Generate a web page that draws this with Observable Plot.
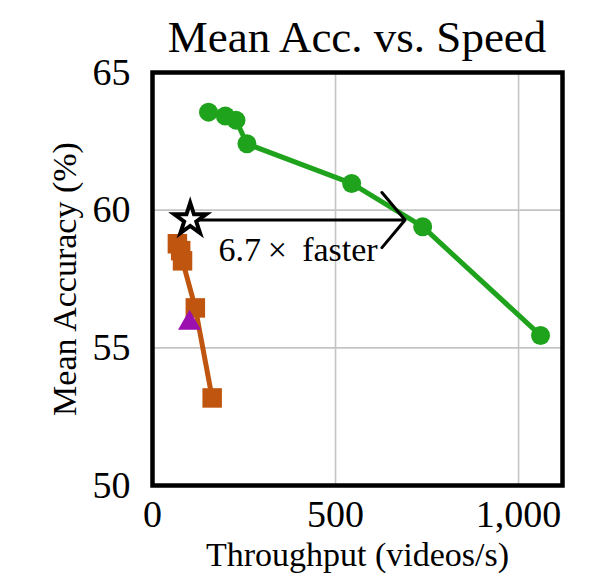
<!DOCTYPE html>
<html>
<head>
<meta charset="utf-8">
<script src="https://cdn.jsdelivr.net/npm/d3@7"></script>
<script src="https://cdn.jsdelivr.net/npm/@observablehq/plot@0.6"></script>
<style>
  body { margin: 0; background: white; }
  #wrap { width: 592px; }
  #titlebox { position: relative; height: 38px; overflow: visible; z-index: 1; }
  #title { position: absolute; left: 152px; width: 410px; top: 15px; text-align: center;
           font-family: "Liberation Serif", serif; font-size: 45px; line-height: 45px; white-space: nowrap; color: #000; }
  #chart svg { display: block; }
</style>
</head>
<body>
<div id="wrap">
  <div id="titlebox"><div id="title">Mean Acc. vs. Speed</div></div>
  <div id="chart"></div>
</div>
<script>
// ---- data ----
const greenX = [153, 199, 228, 258, 544, 738, 1060];
const greenY = [63.56, 63.42, 63.27, 62.41, 60.97, 59.40, 55.45];

const orangeX = [68, 77, 82, 117, 163];
const orangeY = [58.78, 58.53, 58.16, 56.45, 53.18];

const purpleX = [101];
const purpleY = [55.9];

const starX = [103];
const starY = [59.66];

const arrowX1 = [103];
const arrowX2 = [690];
const arrowY = [59.64];

const noteText = ["6.7\u2009\u00d7\u2009 faster"];
const noteX = [180];
const noteY = [58.56];

const xTicks = [0, 500, 1000];
const yTicks = [50, 55, 60, 65];
const xLabel = "Throughput (videos/s)";
const yLabel = "Mean Accuracy (%)";

// ---- tables ----
const green = greenX.map((x, i) => ({x, y: greenY[i]}));
const orange = orangeX.map((x, i) => ({x, y: orangeY[i]}));
const purple = purpleX.map((x, i) => ({x, y: purpleY[i]}));
const star = starX.map((x, i) => ({x, y: starY[i]}));
const arrows = arrowX1.map((x1, i) => ({x1, x2: arrowX2[i], y: arrowY[i]}));
const notes = noteText.map((t, i) => ({t, x: noteX[i], y: noteY[i]}));

const GREEN = "#1fa31d";
const ORANGE = "#c0550f";
const PURPLE = "#9c10b0";

const chart = Plot.plot({
  width: 592,
  height: 542,
  marginTop: 34,
  marginBottom: 95,
  marginLeft: 152,
  marginRight: 30,
  style: { fontFamily: "Liberation Serif, serif", color: "#000", background: "transparent" },
  x: { domain: [0, 1120] },
  y: { domain: [50, 65] },
  marks: [
    Plot.gridX({ ticks: [500, 1000], stroke: "#c4c4c4", strokeOpacity: 1, strokeWidth: 1.6 }),
    Plot.gridY({ ticks: [55, 60], stroke: "#c4c4c4", strokeOpacity: 1, strokeWidth: 1.6 }),
    Plot.line(orange, { x: "x", y: "y", stroke: ORANGE, strokeWidth: 5 }),
    Plot.dot(orange, { x: "x", y: "y", symbol: "square", r: 11, fill: ORANGE }),
    Plot.line(green, { x: "x", y: "y", stroke: GREEN, strokeWidth: 5 }),
    Plot.dot(green, { x: "x", y: "y", r: 9.5, fill: GREEN }),
    Plot.dot(purple, { x: "x", y: "y", symbol: "triangle", r: 8.5, fill: PURPLE }),
    Plot.arrow(arrows, { x1: "x1", x2: "x2", y1: "y", y2: "y", stroke: "black", strokeWidth: 3, headLength: 18, headAngle: 100 }),
    Plot.dot(star, { x: "x", y: "y", symbol: "star", r: 10, fill: "white", stroke: "black", strokeWidth: 4 }),
    Plot.text(notes, { x: "x", y: "y", text: "t", textAnchor: "start", fontSize: 34, fill: "black" }),
    Plot.frame({ stroke: "black", strokeWidth: 4.5 }),
    Plot.axisX({ ticks: xTicks, tickFormat: d3.format(","), tickSize: 0, tickPadding: 15, fontSize: 38, label: null }),
    Plot.axisY({ ticks: yTicks, tickSize: 0, tickPadding: 22, fontSize: 38, label: null }),
    Plot.text([xLabel], { frameAnchor: "bottom", text: d => d, textAnchor: "middle", dy: 80, fontSize: 34, fill: "black" }),
    Plot.text([yLabel], { frameAnchor: "left", text: d => d, textAnchor: "middle", rotate: -90, dx: -87, fontSize: 34, fill: "black" })
  ]
});
document.getElementById("chart").appendChild(chart);
</script>
</body>
</html>
